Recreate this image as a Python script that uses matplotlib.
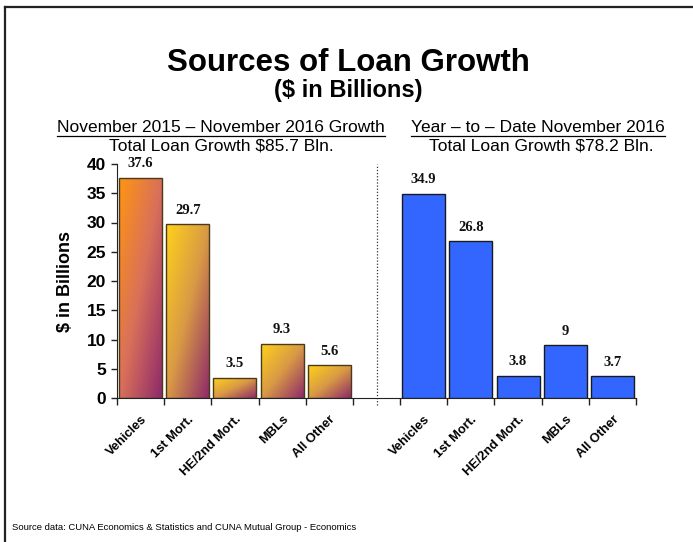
import numpy as np
import matplotlib
matplotlib.use("Agg")
import matplotlib.pyplot as plt
from matplotlib.colors import LinearSegmentedColormap
from matplotlib.lines import Line2D

categories = ["Vehicles", "1st Mort.", "HE/2nd Mort.", "MBLs", "All Other"]
growth_12mo = [37.6, 29.7, 3.5, 9.3, 5.6]
growth_ytd = [34.9, 26.8, 3.8, 9, 3.7]
value_labels_12mo = ["37.6", "29.7", "3.5", "9.3", "5.6"]
value_labels_ytd = ["34.9", "26.8", "3.8", "9", "3.7"]
yticks = [0, 5, 10, 15, 20, 25, 30, 35, 40]

sans = "Liberation Sans"
serif = "Liberation Serif"

fig = plt.figure(figsize=(6.93, 5.42), dpi=100)
W, H = 693, 542

# outer frame (top and left edges only)
fig.add_artist(Line2D([5 / W, 1.0], [1 - 7 / H, 1 - 7 / H], color="#222222", lw=1.6))
fig.add_artist(Line2D([5 / W, 5 / W], [0.0, 1 - 7 / H], color="#222222", lw=1.6))

ax = fig.add_axes([117 / W, 1 - 398 / H, (636 - 117) / W, (398 - 164) / H])

x_left = np.arange(len(categories)) + 0.5
x_right = np.arange(len(categories)) + 6.5
width = 0.91

bars_left = ax.bar(x_left, growth_12mo, width=width, color="none",
                   edgecolor="#4a3a1a", linewidth=1.0, zorder=3)
bars_right = ax.bar(x_right, growth_ytd, width=width, color="#3366FF",
                    edgecolor="#1a1a1a", linewidth=1.0, zorder=3)

# diagonal gradient fill for the 12-month bars
grad = np.linspace(0, 1, 100)
uu, vv = np.meshgrid(grad, grad)
diag = (uu + vv) / 2
cmap_first = LinearSegmentedColormap.from_list("first", ["#FF9512", "#D9705A", "#8E2A6A"])
cmap_rest = LinearSegmentedColormap.from_list("rest", ["#FFD21A", "#D99A45", "#8E2A6A"])
for i, b in enumerate(bars_left):
    x0, y0 = b.get_x(), b.get_y()
    w, h = b.get_width(), b.get_height()
    cm = cmap_first if i == 0 else cmap_rest
    im = ax.imshow(diag, cmap=cm, extent=[x0, x0 + w, y0, y0 + h],
                   origin="upper", aspect="auto", zorder=2, interpolation="bilinear")
    im.set_clip_path(b)

for xs, vals, labs in [(x_left, growth_12mo, value_labels_12mo),
                       (x_right, growth_ytd, value_labels_ytd)]:
    for x, v, t in zip(xs, vals, labs):
        ax.annotate(t, (x, v), xytext=(0, 5.5), textcoords="offset points",
                    ha="center", va="bottom", fontsize=10.5, fontweight="bold",
                    family=serif, color="#111111")

ax.set_xlim(0, 11)
ax.set_ylim(0, 40)

# dotted divider between the two periods
ax.axvline(5.5, ymin=-0.03, ymax=1.0, color="#333333", lw=0.9,
           linestyle=(0, (1, 1.5)), clip_on=False)

ax.set_xticks(np.arange(0, 12))
ax.set_xticklabels([])
ax.set_xticks(list(x_left) + list(x_right), minor=True)
ax.set_xticklabels(categories + categories, minor=True, rotation=45,
                   ha="right", va="top", rotation_mode="anchor",
                   fontsize=9.3, fontweight="bold", family=sans)
ax.tick_params(axis="x", which="major", direction="out", length=5, width=1, color="#222222")
ax.tick_params(axis="x", which="minor", length=0, pad=11)

ax.set_yticks(yticks)
ax.set_yticklabels([str(t) for t in yticks], fontsize=12.5, fontweight="bold", family=sans)
ax.tick_params(axis="y", direction="out", length=4, width=1, color="#222222", pad=4)

for s in ["top", "right"]:
    ax.spines[s].set_visible(False)
ax.spines["left"].set_color("#222222")
ax.spines["bottom"].set_color("#222222")

fig.text(66 / W, 1 - 281 / H, "$ in Billions", rotation=90, ha="center", va="center",
         fontsize=13, fontweight="bold", family=sans)

fig.text(348 / W, 1 - 63 / H, "Sources of Loan Growth", ha="center", va="center",
         fontsize=22.5, fontweight="bold", family=sans)
fig.text(348 / W, 1 - 90 / H, "($ in Billions)", ha="center", va="center",
         fontsize=17, fontweight="bold", family=sans)

head_left = fig.text(221 / W, 1 - 128 / H, "November 2015 \u2013 November 2016 Growth",
                     ha="center", va="center", fontsize=12.5, family=sans)
fig.text(221 / W, 1 - 146 / H, "Total Loan Growth $85.7 Bln.", ha="center", va="center",
         fontsize=12.5, family=sans)
head_right = fig.text(538 / W, 1 - 128 / H, "Year \u2013 to \u2013 Date November 2016",
                      ha="center", va="center", fontsize=12.5, family=sans)
fig.text(541 / W, 1 - 146 / H, "Total Loan Growth $78.2 Bln.", ha="center", va="center",
         fontsize=12.5, family=sans)

fig.text(12 / W, 1 - 527 / H, "Source data: CUNA Economics & Statistics and CUNA Mutual Group - Economics",
         ha="left", va="center", fontsize=6.8, family=sans)

# underline the two period headings
fig.canvas.draw()
renderer = fig.canvas.get_renderer()
for t in (head_left, head_right):
    bb = t.get_window_extent(renderer)
    yy = (bb.y0 - 0.5) / H
    fig.add_artist(Line2D([bb.x0 / W, bb.x1 / W], [yy, yy], color="black", lw=0.9))

fig.savefig("out.png", dpi=100)
